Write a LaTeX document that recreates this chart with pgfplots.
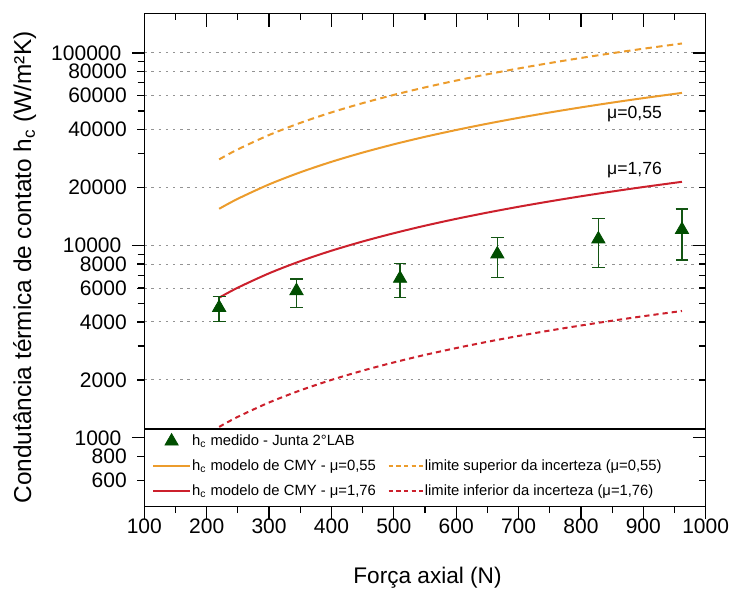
\documentclass[border=0pt]{standalone}
\usepackage{fontspec}
\setmainfont{Liberation Sans}
\usepackage{pgfplots}
\usepackage{pgfplotstable}
\pgfplotsset{compat=1.18}

\definecolor{cmyorange}{RGB}{236,156,44}
\definecolor{cmyred}{RGB}{204,32,44}
\definecolor{medgreen}{RGB}{0,78,0}

% legend pictures
\pgfplotsset{
  lgmark/.style={legend image code/.code={\draw[mark repeat=2, mark phase=2, ##1]
      plot coordinates {(0pt,0pt) (9.25pt,0pt) (18.5pt,0pt)};}},
  lgline/.style={legend image code/.code={\draw[##1] (0pt,0pt) -- (18.5pt,0pt);}},
  lgdash/.style={legend image code/.code={\draw[##1] (0pt,0pt) -- (13.5pt,0pt);
      \path (0pt,0pt) -- (17pt,0pt);}},
}
% y tick label with room to the axis
\newcommand{\yl}[1]{#1\kern5.1pt}

% medido: x, y, erro superior, erro inferior
\pgfplotstableread{
x   y     ep   em
220 4753  655  743
344 5808  868  1055
510 6730  1327 1373
666 9010  2000 2198
828 10785 3040 3105
962 12070 3390 3690
}\medido

% modelo CMY e limites da incerteza
\pgfplotstableread{
x   sup055 cmy055 cmy176 inf176
220 28000  15500  5350   1140
250 31570  17480  6033   1286
300 37480  20750  7161   1526
350 43320  23980  8278   1764
400 49120  27190  9385   2000
450 54870  30370  10480  2234
500 60580  33530  11570  2466
550 66260  36680  12660  2698
600 71900  39800  13740  2927
650 77520  42910  14810  3156
700 83110  46010  15880  3384
750 88680  49090  16940  3611
800 94230  52160  18000  3836
850 99750  55220  19060  4061
900 105260 58270  20110  4286
962 112060 62040  21410  4563
}\modelo

\begin{document}
\begin{tikzpicture}
\begin{axis}[
    scale only axis, width=280.7pt, height=246.35pt,
    xmin=100, xmax=1000, ymode=log, ymin=440, ymax=160000,
    xtick={100,200,...,1000}, minor x tick num=1,
    ytick={1000,10000,100000},
    yticklabels={\yl{1000},\yl{10000},\yl{100000}},
    extra y ticks={600,800,2000,4000,6000,8000,20000,40000,60000,80000},
    extra y tick labels={\yl{600},\yl{800},\yl{2000},\yl{4000},\yl{6000},
      \yl{8000},\yl{20000},\yl{40000},\yl{60000},\yl{80000}},
    extra y tick style={major tick length=3.5pt, grid=major},
    axis line style={line width=0.6pt},
    tick style={line width=0.6pt, black},
    major tick length=6.2pt, minor tick length=3.3pt,
    tick align=outside, xtick pos=bottom, ytick pos=left,
    xticklabels={100,200,300,400,500,600,700,800,900,1000},
    ymajorgrids=true,
    grid style={gray!85, line width=0.5pt, dash pattern=on 1.2pt off 2.4pt},
    tick label style={font=\fontsize{10.5}{12}\selectfont},
    yticklabel style={anchor=east, inner sep=0pt},
    xticklabel style={anchor=north, inner sep=0pt},
    xlabel={Força axial (N)},
    ylabel={Condutância térmica de contato h\textsubscript{c} (W/m²K)},
    xlabel style={font=\fontsize{11.3}{13}\selectfont, inner sep=0pt,
      at={(axis description cs:0.5045,-0.1569)}, anchor=base},
    ylabel style={font=\fontsize{12.2}{14}\selectfont, inner sep=0pt,
      at={(axis description cs:-0.213,0.485)}, anchor=center},
    legend columns=2,
    legend cell align=left,
    legend style={draw=none, fill=none, at={(rel axis cs:0,0.1571)},
      anchor=north west, inner xsep=3.7pt, inner ysep=1.6pt,
      font=\fontsize{7.4}{9}\selectfont, row sep=3.8pt,
      nodes={inner sep=0.5pt, text height=6pt, text depth=1.6pt},
      /tikz/every even column/.append style={column sep=5.5pt}},
  ]
  \addplot[forget plot, cmyorange, line width=1pt, smooth,
    dash pattern=on 3.2pt off 2.2pt] table[x=x, y=sup055] {\modelo};
  \addplot[forget plot, cmyorange, line width=1pt, smooth] table[x=x, y=cmy055] {\modelo};
  \addplot[forget plot, cmyred, line width=1pt, smooth] table[x=x, y=cmy176] {\modelo};
  \addplot[forget plot, cmyred, line width=1pt, smooth,
    dash pattern=on 2.6pt off 2pt] table[x=x, y=inf176] {\modelo};
  \addplot[forget plot, only marks, mark=triangle*, mark size=3.8pt, medgreen,
    error bars/.cd, y dir=both, y explicit,
    error bar style={line width=0.7pt, medgreen!85!gray},
    error mark options={rotate=90, mark size=3.2pt, line width=0.7pt, medgreen!85!gray}]
    table[x=x, y=y, y error plus=ep, y error minus=em] {\medido};

  \node[font=\fontsize{8.8}{10}\selectfont] at (axis cs:886,48300) {μ=0,55};
  \node[font=\fontsize{8.8}{10}\selectfont] at (axis cs:886,24590) {μ=1,76};

  \draw[line width=0.6pt, fill=white] (rel axis cs:0,0) rectangle (rel axis cs:1,0.1571);
  \coordinate (ll) at (rel axis cs:0,0);

  \addlegendimage{only marks, mark=triangle*, mark size=3.8pt, medgreen, lgmark}
  \addlegendentry{h\textsubscript{c} medido - Junta 2°LAB}
  \addlegendimage{empty legend}
  \addlegendentry{}
  \addlegendimage{cmyorange, line width=1pt, lgline}
  \addlegendentry{h\textsubscript{c} modelo de CMY - μ=0,55}
  \addlegendimage{cmyorange, line width=1pt, dash pattern=on 2.2pt off 1.6pt, lgdash}
  \addlegendentry{limite superior da incerteza (μ=0,55)}
  \addlegendimage{cmyred, line width=1pt, lgline}
  \addlegendentry{h\textsubscript{c} modelo de CMY - μ=1,76}
  \addlegendimage{cmyred, line width=1pt, dash pattern=on 2.2pt off 1.6pt, lgdash}
  \addlegendentry{limite inferior da incerteza (μ=1,76)}
\end{axis}
\begin{axis}[
    scale only axis, width=280.7pt, height=246.35pt,
    xmin=100, xmax=1000, ymode=log, ymin=440, ymax=160000,
    xtick={100,200,...,1000}, minor x tick num=1,
    ytick={1000,10000,100000},
    extra y ticks={600,800,2000,4000,6000,8000,20000,40000,60000,80000},
    extra y tick style={major tick length=3.5pt},
    axis line style={line width=0.6pt},
    tick style={line width=0.6pt, black},
    major tick length=6.5pt, minor tick length=3.3pt,
    tick align=inside, xtick pos=top, ytick pos=right,
    xticklabels={}, yticklabels={}, extra y tick labels={},
  ]
\end{axis}
\path (ll) ++(-72.15pt,-41.65pt) rectangle ++(365pt,293pt);
\end{tikzpicture}
\end{document}
